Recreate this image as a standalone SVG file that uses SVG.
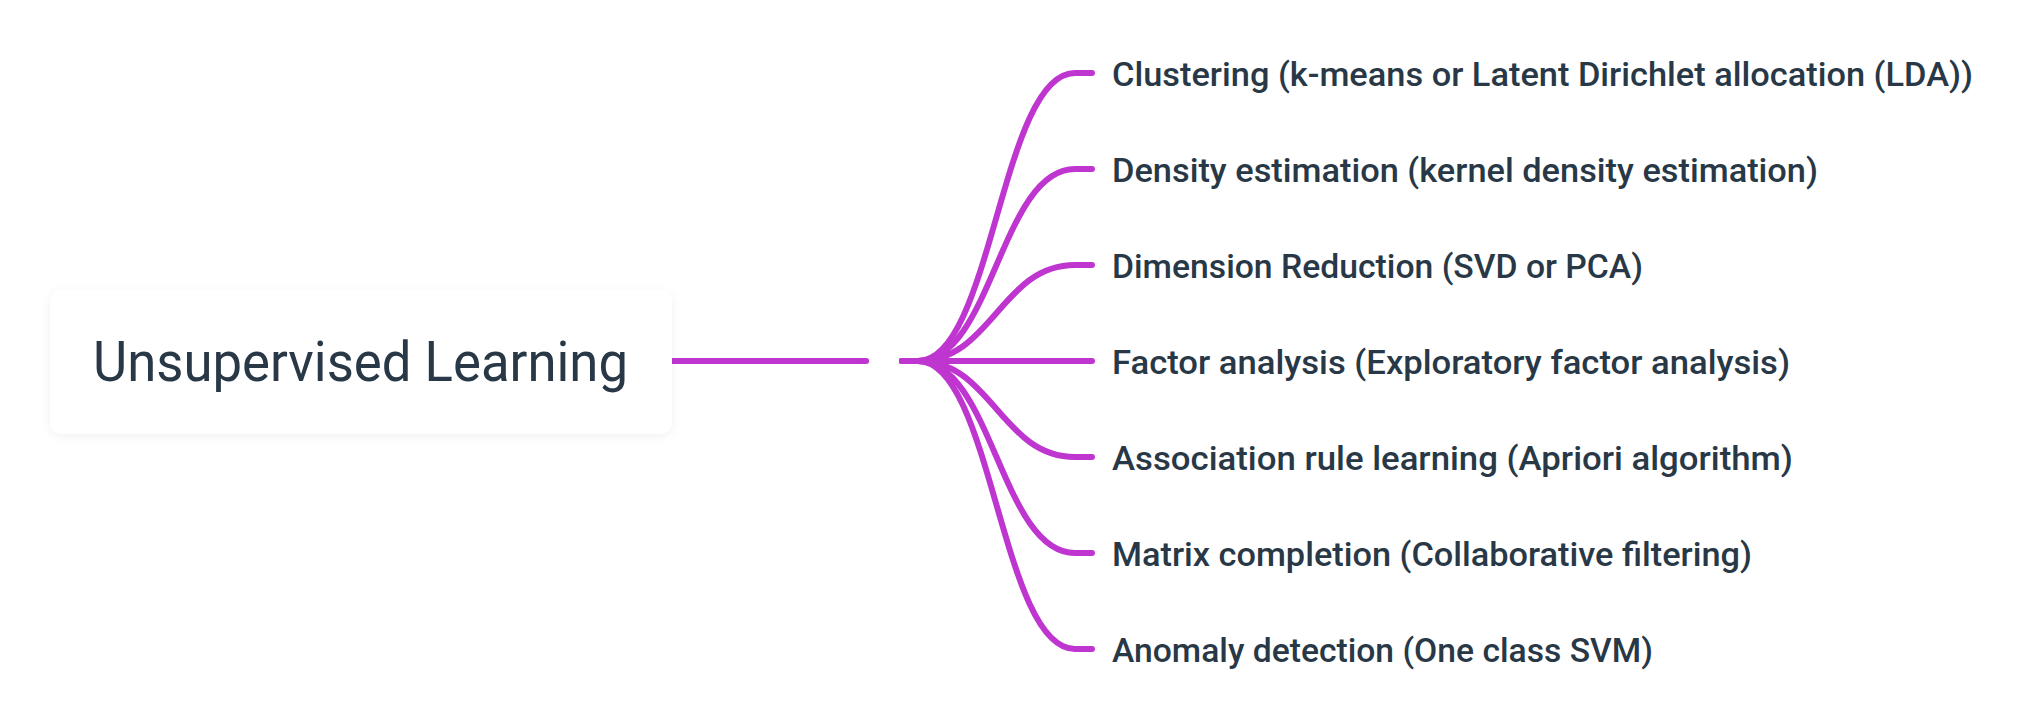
<svg xmlns="http://www.w3.org/2000/svg" width="2044" height="724" viewBox="0 0 2044 724">
<defs>
<filter id="sh" x="-10%" y="-20%" width="120%" height="140%">
<feDropShadow dx="0" dy="2" stdDeviation="5" flood-color="#000" flood-opacity="0.06"/>
</filter>
<style>
.conn{fill:none;stroke:#BE35CF;stroke-width:6;stroke-linecap:round}
.lbl{font-family:Roboto,"Liberation Sans",sans-serif;font-size:33px;font-weight:500;fill:#283846}
.root{font-family:Roboto,"Liberation Sans",sans-serif;font-size:55px;fill:#283846}
</style>
</defs>
<rect width="2044" height="724" fill="#fff"/>
<g id="connectors">
<path class="conn" d="M672 361 H866" style="stroke-linecap:butt"/>
<path class="conn" d="M866 361 H866.1"/>
<path class="conn" d="M902 361 H918 C992 361 1001 73 1075 73 H1092"/>
<path class="conn" d="M902 361 H918 C992 361 1001 169 1075 169 H1092"/>
<path class="conn" d="M902 361 H918 C992 361 1001 265 1075 265 H1092"/>
<path class="conn" d="M902 361 H1092"/>
<path class="conn" d="M902 361 H918 C992 361 1001 457 1075 457 H1092"/>
<path class="conn" d="M902 361 H918 C992 361 1001 553 1075 553 H1092"/>
<path class="conn" d="M902 361 H918 C992 361 1001 649 1075 649 H1092"/>
</g>
<g id="root">
<rect x="50" y="290" width="622" height="144" rx="12" fill="#fff" filter="url(#sh)"/>
<text class="root" x="93" y="381" textLength="535" lengthAdjust="spacingAndGlyphs">Unsupervised Learning</text>
</g>
<g id="n1"><text class="lbl" x="1112" y="86" textLength="861" lengthAdjust="spacingAndGlyphs">Clustering (k-means or Latent Dirichlet allocation (LDA))</text></g>
<g id="n2"><text class="lbl" x="1112" y="182" textLength="706" lengthAdjust="spacingAndGlyphs">Density estimation (kernel density estimation)</text></g>
<g id="n3"><text class="lbl" x="1112" y="278" textLength="531" lengthAdjust="spacingAndGlyphs">Dimension Reduction (SVD or PCA)</text></g>
<g id="n4"><text class="lbl" x="1112" y="374" textLength="678" lengthAdjust="spacingAndGlyphs">Factor analysis (Exploratory factor analysis)</text></g>
<g id="n5"><text class="lbl" x="1112" y="470" textLength="681" lengthAdjust="spacingAndGlyphs">Association rule learning (Apriori algorithm)</text></g>
<g id="n6"><text class="lbl" x="1112" y="566" textLength="640" lengthAdjust="spacingAndGlyphs">Matrix completion (Collaborative filtering)</text></g>
<g id="n7"><text class="lbl" x="1112" y="662" textLength="541" lengthAdjust="spacingAndGlyphs">Anomaly detection (One class SVM)</text></g>
</svg>
